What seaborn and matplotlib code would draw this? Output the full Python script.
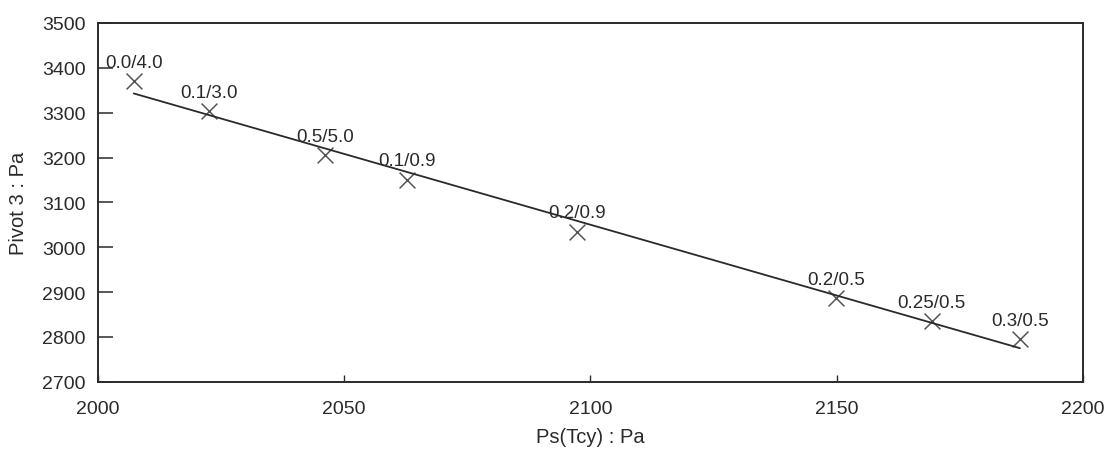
import numpy as np
import pandas as pd
import matplotlib
matplotlib.use("Agg")
import matplotlib.pyplot as plt
import seaborn as sns

# Measured cases: label "a/b" with static pressure vs. pivot-3 pressure
case_labels = ["0.0/4.0", "0.1/3.0", "0.5/5.0", "0.1/0.9", "0.2/0.9",
               "0.2/0.5", "0.25/0.5", "0.3/0.5"]
ps_tcy = [2007.3, 2022.5, 2046.1, 2062.7, 2097.3, 2149.9, 2169.3, 2187.2]
pivot3 = [3370, 3304, 3206, 3151, 3035, 2887, 2836, 2795]

x_ticks = [2000, 2050, 2100, 2150, 2200]
y_ticks = [2700, 2800, 2900, 3000, 3100, 3200, 3300, 3400, 3500]

df = pd.DataFrame({"Ps": ps_tcy, "Pivot3": pivot3, "case": case_labels})

sns.set_theme(style="ticks")
plt.rcParams["font.family"] = ["Liberation Sans", "DejaVu Sans"]

fig = plt.figure(figsize=(11.13, 4.52), dpi=100)
ax = fig.add_axes([0.088, 0.153, 0.885, 0.794])

ink = "#2a2a2a"
sns.regplot(data=df, x="Ps", y="Pivot3", ax=ax, ci=None, marker="x",
            scatter_kws={"s": 130, "color": ink, "linewidths": 1.1},
            line_kws={"color": ink, "linewidth": 1.3})

for xv, yv, lab in zip(df["Ps"], df["Pivot3"], df["case"]):
    ax.annotate(lab, (xv, yv), xytext=(0, 13.5), textcoords="offset points",
                ha="center", va="center", fontsize=13.5, color=ink)

ax.set_xlim(2000, 2200)
ax.set_ylim(2700, 3500)
ax.set_xticks(x_ticks)
ax.set_yticks(y_ticks)
ax.tick_params(axis="y", direction="in", length=11, width=1.1, pad=9,
               labelsize=14, colors=ink)
ax.tick_params(axis="x", direction="in", length=5, width=1.0, pad=13,
               labelsize=14, colors=ink)
for sp in ax.spines.values():
    sp.set_visible(True)
    sp.set_linewidth(1.4)
    sp.set_color(ink)

ax.set_xlabel("Ps(Tcy) : Pa", fontsize=14.5, color=ink, labelpad=7)
ax.set_ylabel("Pivot 3 : Pa", fontsize=14.5, color=ink, labelpad=10)

fig.savefig("out.png", dpi=100, facecolor="white")
